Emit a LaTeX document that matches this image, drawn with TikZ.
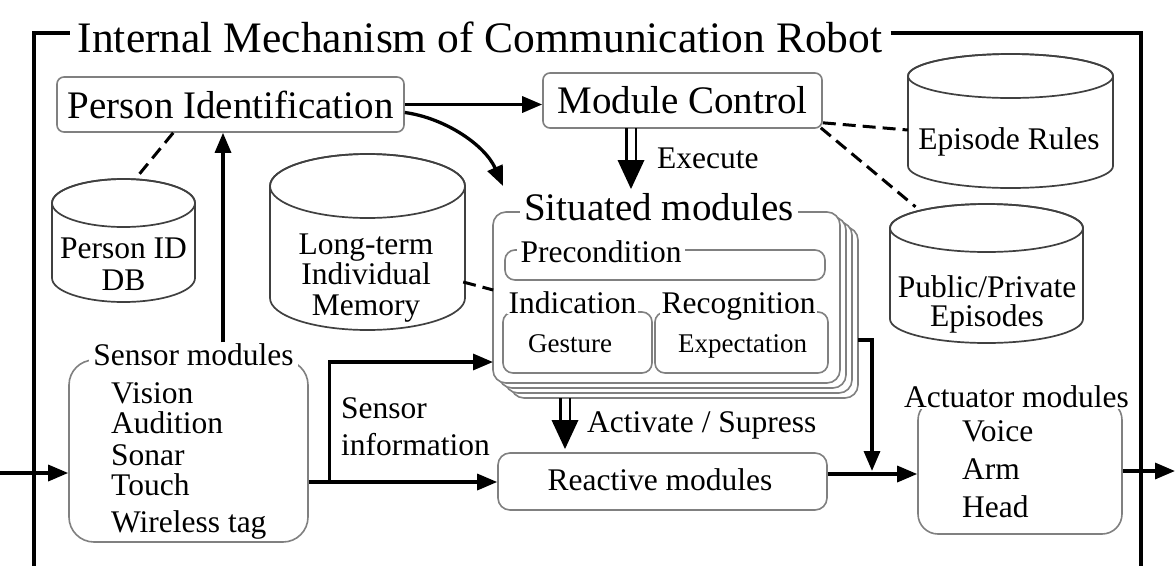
\documentclass[tikz,border=0pt]{standalone}
\usepackage{fontspec}
\setmainfont{Liberation Serif}
\usetikzlibrary{arrows.meta,calc}
\definecolor{boxgray}{gray}{0.5}
\definecolor{cylgray}{gray}{0.25}
\newcommand{\mycyl}[5]{%
  \path[fill=white,draw=cylgray,line width=1.7pt] (#1-#2,#3) -- (#1-#2,#4) arc[start angle=180,end angle=0,x radius=#2,y radius=#5] -- (#1+#2,#3) arc[start angle=0,end angle=-180,x radius=#2,y radius=#5] -- cycle;
  \draw[cylgray,line width=1.7pt] (#1,#3) ellipse[x radius=#2,y radius=#5];}
\newcommand{\mydbl}[2]{%
  \draw[line width=2.6pt] ($(#1)+(-4.8,0)$) -- ($(#2)+(-4.8,-26)$);
  \draw[line width=2.6pt] ($(#1)+(4.8,0)$) -- ($(#2)+(4.8,-26)$);
  \fill ($(#2)+(-13.5,-29)$) -- ($(#2)+(13.5,-29)$) -- (#2) -- cycle;}
\begin{document}
\begin{tikzpicture}[x=1pt,y=-1pt,
  every node/.style={inner sep=0pt},
  ttl/.style={font=\fontsize{43.5}{48}\selectfont},
  big/.style={font=\fontsize{39}{44}\selectfont},
  txt/.style={font=\fontsize{31.5}{34}\selectfont},
  sml/.style={font=\fontsize{27}{30}\selectfont},
  boxg/.style={draw=boxgray, line width=1.6pt, rounded corners=#1, fill=white},
  boxg/.default=8pt,
  conn/.style={line width=3.3pt, -{Triangle[length=20pt,width=16pt]}},
  plain/.style={line width=3.3pt},
  dsh/.style={line width=3pt, dash pattern=on 13pt off 7pt},
  lbl/.style={fill=white, inner xsep=4pt, inner ysep=1pt},
]
\fill[white] (0,0) rectangle (1175,566);
\useasboundingbox (0,0) rectangle (1175,566);

% title and frame
\node[ttl, anchor=base, inner xsep=8pt] (title) at (480,52) {Internal Mechanism of Communication Robot};
\coordinate (ftl) at (34,33); \coordinate (ftr) at (1141,33);
\coordinate (fbl) at (34,566); \coordinate (fbr) at (1141,566);
\draw[plain] (title.west |- ftl) -- (ftl) -- (fbl);
\draw[plain] (title.east |- ftr) -- (ftr) -- (fbr);

% cylinders
\mycyl{123.5}{71.5}{203}{278}{24}
\node[minimum width=143pt, minimum height=123pt] (pidb) at (123.5,240.5) {};
\node[txt, anchor=base] (pid1) at (123.5,258.5) {Person ID};
\node[txt, anchor=base] (pid2) at (123.5,290.5) {DB};

\mycyl{367.5}{97.5}{186}{298}{32}
\node[minimum width=195pt, minimum height=176pt] (ltm) at (367.5,242) {};
\node[txt, anchor=base] (ltm1) at (366,254) {Long-term};
\node[txt, anchor=base] (ltm2) at (366,284) {Individual};
\node[txt, anchor=base] (ltm3) at (366,315) {Memory};

\mycyl{1010.5}{102.5}{76}{166}{22}
\node[minimum width=205pt, minimum height=134pt] (er) at (1010.5,121) {};
\node[txt, anchor=base] (er1) at (1009,149.5) {Episode Rules};

\mycyl{986.5}{96.5}{228}{319}{24}
\node[minimum width=193pt, minimum height=139pt] (ppe) at (986.5,273.5) {};
\node[txt, anchor=base] (ppe1) at (987,297.5) {Public/Private};
\node[txt, anchor=base] (ppe2) at (987,326.5) {Episodes};

% top boxes
\node[boxg=7pt, big, minimum width=347pt, minimum height=55pt] (pi) at (230.5,104.5) {Person Identification};
\node[boxg=7pt, big, minimum width=279pt, minimum height=55pt] (mc) at (682.5,100.5) {Module Control};
\node[txt, anchor=base west] (exe) at (657,168) {Execute};

% situated modules stack
\foreach \k in {3,2,1}
  \draw[boxg=13pt] ($(493,212)+(6*\k,5*\k)$) rectangle ($(840,383)+(6*\k,5*\k)$);
\node[boxg=13pt, minimum width=347pt, minimum height=171pt] (sit) at (666.5,297.5) {};
\node[big, lbl, anchor=base] (sitl) at (659,220) {Situated modules};
\node[boxg=10pt, minimum width=320pt, minimum height=30pt] (pre) at (665,265) {};
\node[txt, lbl, anchor=base] (prel) at (601,262) {Precondition};
\node[boxg=10pt, minimum width=149pt, minimum height=61pt] (ind) at (577.5,342.5) {};
\node[boxg=10pt, minimum width=173pt, minimum height=61pt] (rec) at (741.5,342.5) {};
\node[txt, lbl, inner xsep=2pt, anchor=base] (indl) at (572.5,313) {Indication};
\node[txt, lbl, inner xsep=2pt, anchor=base] (recl) at (738.5,313) {Recognition};
\node[sml, anchor=base] (ges) at (570,352) {Gesture};
\node[sml, anchor=base] (exp) at (742.5,352) {Expectation};

% sensor modules
\node[boxg=25pt, minimum width=239pt, minimum height=182pt] (sen) at (188.5,451) {};
\node[txt, lbl, anchor=base] (senl) at (193.5,365.5) {Sensor modules};
\node[txt, anchor=base west] (s1) at (111,403.5) {Vision};
\node[txt, anchor=base west] (s2) at (111,433.5) {Audition};
\node[txt, anchor=base west] (s3) at (111,465.5) {Sonar};
\node[txt, anchor=base west] (s4) at (111,495.5) {Touch};
\node[txt, anchor=base west] (s5) at (111,532.5) {Wireless tag};
\node[txt, anchor=base west] (si1) at (341,418.5) {Sensor};
\node[txt, anchor=base west] (si2) at (341,455.5) {information};

% reactive
\node[boxg=12pt, minimum width=329pt, minimum height=57pt] (rea) at (662.5,481.5) {};
\node[txt, anchor=base] (real) at (660,490.5) {Reactive modules};
\node[txt, anchor=base west] (actl) at (587,432.5) {Activate / Supress};

% actuator
\node[boxg=20pt, minimum width=204pt, minimum height=134pt] (act) at (1020,467) {};
\node[txt, lbl, anchor=base] (actm) at (1016.5,407.5) {Actuator modules};
\node[txt, anchor=base west] (a1) at (962,441.5) {Voice};
\node[txt, anchor=base west] (a2) at (962,479.5) {Arm};
\node[txt, anchor=base west] (a3) at (962,517.5) {Head};

% connectors
\draw[conn] (pi.east) -- (mc.west |- pi.east);
\coordinate (sitin) at (503,186);
\draw[conn] ([yshift=-8pt]pi.east) .. controls (445,118) and (485,145) .. (sitin);
\coordinate (exA) at (631,128); \coordinate (exB) at (631,189);
\mydbl{exA}{exB}
\coordinate (acA) at (565,398); \coordinate (acB) at (565,449);
\mydbl{acA}{acB}

\draw[dsh] ($(pi.south west)+(117,0)$) -- ($(pidb.north)+(12,0)$);
\draw[dsh] ($(mc.south east)+(0,-6)$) -- ($(er.west)+(0,9)$);
\draw[dsh] ($(mc.south east)+(-2,-1)$) -- ($(ppe.north)+(-71,3)$);
\draw[dsh] ($(ltm.east)+(-2,40)$) -- ($(sit.west)+(1,-7.5)$);

\path ($(senl.north)+(29.5,0)$) coordinate (upA);
\draw[conn] (upA) -- (upA |- pi.south);
\coordinate (inL) at (0,473);
\draw[conn] (inL) -- (inL -| sen.west);
\path (sen.east) ++(0,31) coordinate (sr);
\draw[conn] (sr) -- (sr -| rea.west);
\path (sr) ++(21,0) coordinate (br);
\coordinate (sitS) at (493,362);
\draw[conn] (br) |- (sitS);
\coordinate (sa1) at (858,340); \coordinate (sa2) at (872,471);
\draw[conn] (sa1) -| (sa2);
\path ([yshift=7.5pt]rea.east) coordinate (raS);
\draw[conn] (raS) -- (raS -| act.west);
\coordinate (outR) at (1175,471);
\draw[conn] (act.east |- outR) -- (outR);
\end{tikzpicture}
\end{document}
